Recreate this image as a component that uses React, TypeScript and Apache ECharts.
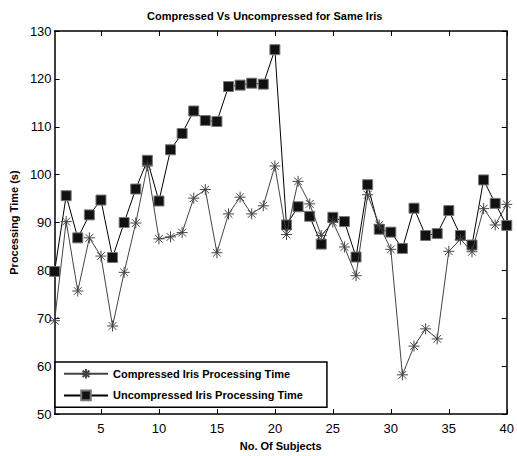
import React, { useEffect, useRef } from "react";
import * as echarts from "echarts";

const subjects = Array.from({ length: 40 }, (_, i) => i + 1);
const compressed = [
  69.5, 90.2, 75.7, 86.8, 83.0, 68.4, 79.6, 89.9, 101.8, 86.6,
  87.0, 87.9, 95.1, 96.9, 83.7, 91.8, 95.3, 91.8, 93.5, 101.8,
  87.5, 98.6, 93.9, 87.3, 90.1, 84.9, 78.9, 95.8, 89.5, 84.4,
  58.2, 64.2, 67.8, 65.7, 84.0, 86.5, 83.9, 92.9, 89.5, 93.8,
];
const uncompressed = [
  79.8, 95.6, 86.8, 91.6, 94.7, 82.7, 90.0, 97.0, 103.0, 94.5,
  105.2, 108.6, 113.3, 111.3, 111.1, 118.4, 118.7, 119.1, 118.9, 126.1,
  89.5, 93.3, 91.3, 85.5, 91.1, 90.2, 82.8, 97.9, 88.6, 88.0,
  84.6, 93.0, 87.3, 87.7, 92.5, 87.3, 85.3, 98.9, 94.0, 89.4,
];
const xTicks = [5, 10, 15, 20, 25, 30, 35, 40];
const seriesNames = ["Compressed Iris Processing Time", "Uncompressed Iris Processing Time"];
const titleText = "Compressed Vs Uncompressed for Same Iris";
const xName = "No. Of Subjects";
const yName = "Processing Time (s)";

const FONT = "'Liberation Sans', Arial, sans-serif";
const STAR = "path://M0,-5L0,5M-5,0L5,0M-3.5,-3.5L3.5,3.5M-3.5,3.5L3.5,-3.5";

export default function App() {
  const ref = useRef<HTMLDivElement>(null);
  useEffect(() => {
    if (!ref.current) return;
    const chart = echarts.init(ref.current, undefined, { renderer: "svg" });
    const axisLine = { show: true, lineStyle: { color: "#000", width: 1.5 } };
    chart.setOption({
      animation: false,
      backgroundColor: "#fff",
      textStyle: { fontFamily: FONT },
      title: {
        text: titleText,
        left: 142,
        top: 5,
        textStyle: { fontSize: 11, fontWeight: "bold", color: "#000", fontFamily: FONT },
      },
      grid: { left: 46, right: 6, top: 31, bottom: 39 },
      legend: {
        orient: "vertical",
        left: 55,
        top: 362,
        padding: [6, 24, 6, 8],
        itemGap: 10,
        itemWidth: 44,
        itemHeight: 12,
        borderColor: "#000",
        borderWidth: 1.5,
        borderRadius: 0,
        backgroundColor: "#fff",
        textStyle: { fontSize: 11, fontWeight: "bold", color: "#000", fontFamily: FONT },
        data: seriesNames,
      },
      xAxis: [
        {
          type: "value",
          min: 1,
          max: 40,
          name: xName,
          nameLocation: "middle",
          nameGap: 25,
          nameTextStyle: { fontSize: 11, fontWeight: "bold", color: "#000", fontFamily: FONT },
          axisLine,
          axisTick: { show: true, inside: true, length: 5, customValues: xTicks, lineStyle: { color: "#000" } },
          axisLabel: { customValues: xTicks, fontSize: 13, color: "#000", margin: 8, fontFamily: FONT },
          splitLine: { show: false },
        },
        {
          type: "value",
          position: "top",
          min: 1,
          max: 40,
          axisLine,
          axisTick: { show: true, inside: true, length: 5, customValues: xTicks, lineStyle: { color: "#000" } },
          axisLabel: { show: false, customValues: xTicks },
          splitLine: { show: false },
        },
      ],
      yAxis: [
        {
          type: "value",
          min: 50,
          max: 130,
          interval: 10,
          name: yName,
          nameLocation: "middle",
          nameGap: 29,
          nameTextStyle: { fontSize: 11, fontWeight: "bold", color: "#000", fontFamily: FONT },
          axisLine,
          axisTick: { show: true, inside: true, length: 5, lineStyle: { color: "#000" } },
          axisLabel: { fontSize: 13, color: "#000", margin: 3, fontFamily: FONT },
          splitLine: { show: false },
        },
        {
          type: "value",
          position: "right",
          min: 50,
          max: 130,
          interval: 10,
          axisLine,
          axisTick: { show: true, inside: true, length: 5, lineStyle: { color: "#000" } },
          axisLabel: { show: false },
          splitLine: { show: false },
        },
      ],
      series: [
        {
          name: seriesNames[0],
          type: "line",
          data: subjects.map((s, i) => [s, compressed[i]]),
          symbol: STAR,
          symbolSize: 11,
          showAllSymbol: true,
          lineStyle: { color: "#444", width: 1 },
          itemStyle: { color: "rgba(0,0,0,0)", borderColor: "#444", borderWidth: 1 },
          z: 3,
        },
        {
          name: seriesNames[1],
          type: "line",
          data: subjects.map((s, i) => [s, uncompressed[i]]),
          symbol: "rect",
          symbolSize: 10,
          showAllSymbol: true,
          lineStyle: { color: "#000", width: 1 },
          itemStyle: { color: "#111", borderColor: "#777", borderWidth: 1 },
          z: 2,
        },
      ],
    });
    return () => chart.dispose();
  }, []);
  return (
    <div
      ref={ref}
      style={{ position: "fixed", left: 0, top: 0, width: 517, height: 456, background: "#fff" }}
    />
  );
}
